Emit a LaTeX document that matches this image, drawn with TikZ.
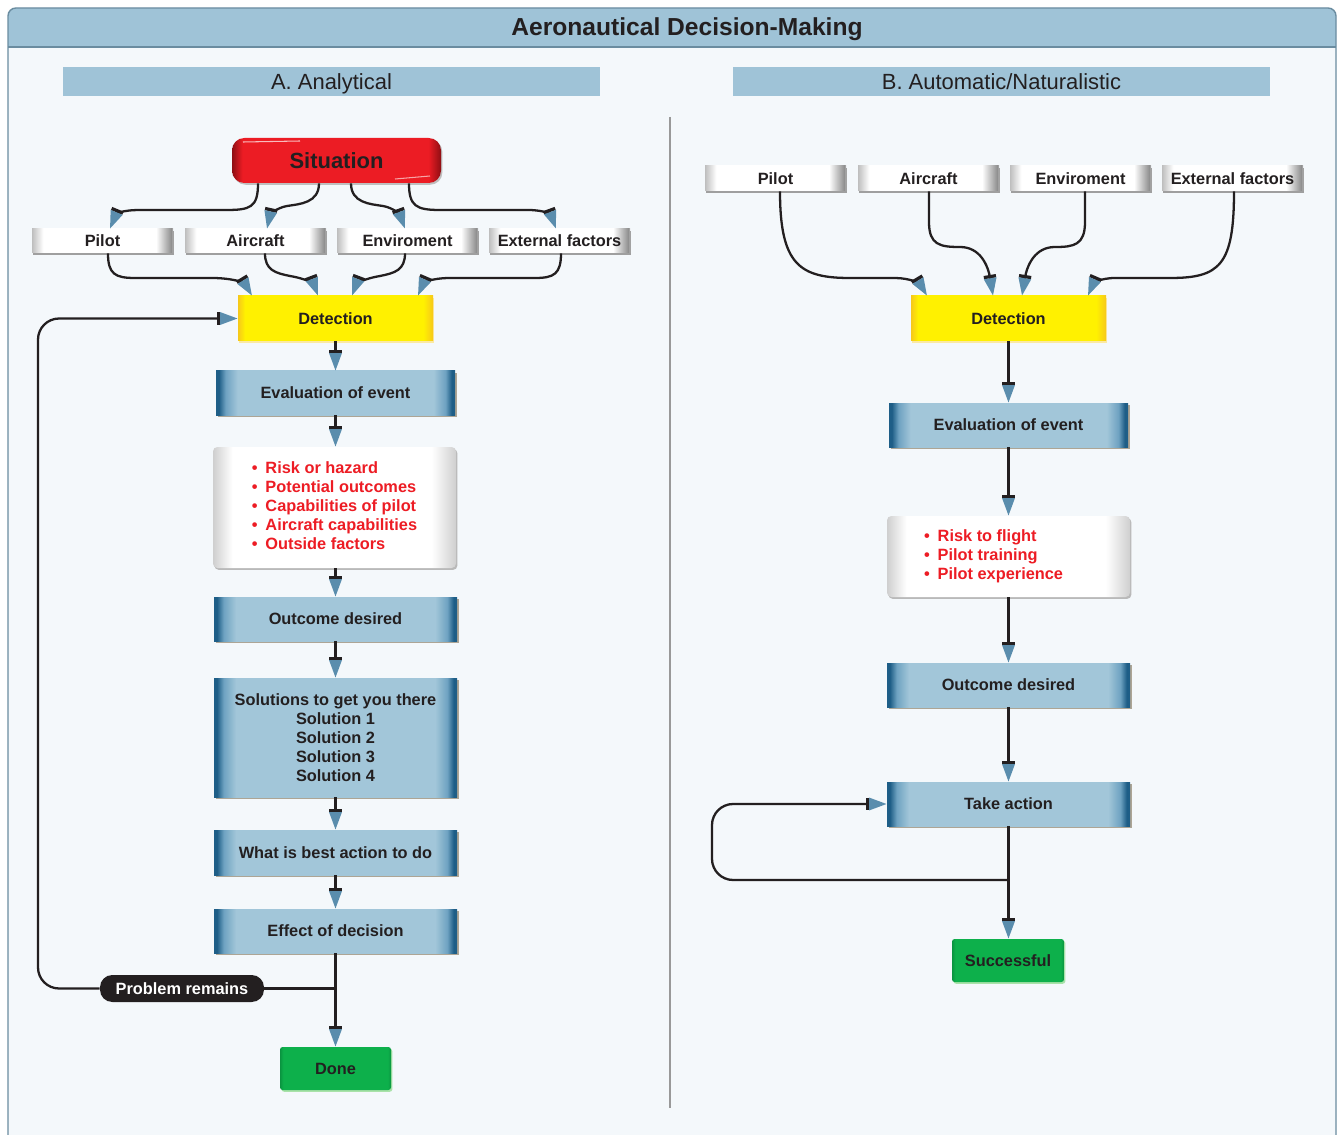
\documentclass[tikz,border=0pt]{standalone}
\usepackage{fontspec}
\setmainfont{Liberation Sans}
\usetikzlibrary{arrows.meta,calc,shadows}
\definecolor{txt}{HTML}{231F20}
\definecolor{band}{HTML}{9FC3D7}
\definecolor{panel}{HTML}{F4F8FB}
\definecolor{framec}{HTML}{6A8CA0}
\definecolor{bdark}{HTML}{1E5E87}
\definecolor{bmid}{HTML}{6EA2C1}
\definecolor{blight}{HTML}{A2C6D9}
\definecolor{gedge}{HTML}{BEBEBE}
\definecolor{gedge2}{HTML}{8E8E8E}
\definecolor{ledge}{HTML}{CFCFCF}
\definecolor{yedge}{HTML}{F6C81A}
\definecolor{ymid}{HTML}{FFF100}
\definecolor{gredge}{HTML}{0A9440}
\definecolor{grmid}{HTML}{0DB04B}
\definecolor{rdark}{HTML}{8E0E13}
\definecolor{rmid}{HTML}{EC1C24}
\definecolor{redtxt}{HTML}{ED1C24}
\definecolor{coneblue}{HTML}{5A8DAD}
\definecolor{shad}{HTML}{ADA595}
\pgfdeclarehorizontalshading{blueshade}{100bp}{color(0bp)=(bdark); color(25.6bp)=(bdark); color(27bp)=(bmid); color(29.5bp)=(blight); color(70.5bp)=(blight); color(73bp)=(bmid); color(74.3bp)=(bdark); color(100bp)=(bdark)}
\pgfdeclarehorizontalshading{labelshade}{100bp}{color(0bp)=(gedge); color(25bp)=(gedge); color(29bp)=(white); color(69bp)=(white); color(74.4bp)=(gedge2); color(75bp)=(gedge); color(100bp)=(gedge)}
\pgfdeclarehorizontalshading{listshade}{100bp}{color(0bp)=(ledge); color(25bp)=(ledge); color(29bp)=(white); color(70bp)=(white); color(75bp)=(ledge); color(100bp)=(ledge)}
\pgfdeclarehorizontalshading{yellowshade}{100bp}{color(0bp)=(yedge); color(25bp)=(yedge); color(26.8bp)=(ymid); color(72.5bp)=(ymid); color(75bp)=(yedge); color(100bp)=(yedge)}
\pgfdeclarehorizontalshading{greenshade}{100bp}{color(0bp)=(gredge); color(25bp)=(gredge); color(26.5bp)=(grmid); color(73.5bp)=(grmid); color(75bp)=(gredge); color(100bp)=(gredge)}
\pgfdeclarehorizontalshading{redshade}{100bp}{color(0bp)=(rdark); color(25bp)=(rdark); color(27.5bp)=(rmid); color(72bp)=(rmid); color(75bp)=(rdark); color(100bp)=(rdark)}
\tikzset{
  every node/.style={text=txt},
  sz/.style 2 args={minimum width=#1*0.02cm, minimum height=#2*0.02cm},
  nbase/.style={inner sep=0pt, align=center, font=\fontsize{9.3}{10.8}\selectfont\bfseries},
  bluebox/.style={nbase, shading=blueshade, drop shadow={shadow xshift=0.9pt, shadow yshift=-1.2pt, fill=shad, opacity=1}},
  lblbox/.style={nbase, shading=labelshade, drop shadow={shadow xshift=0.7pt, shadow yshift=-0.9pt, fill=gray!75, opacity=1}},
  listbox/.style={inner sep=0pt, font=\fontsize{9.3}{10.8}\selectfont\bfseries, text=redtxt, shading=listshade, rounded corners=2.5pt, drop shadow={shadow xshift=0.8pt, shadow yshift=-1.1pt, fill=gray!55, opacity=1}},
  detbox/.style={nbase, shading=yellowshade, drop shadow={shadow xshift=0.8pt, shadow yshift=-1pt, fill=yedge!40, opacity=1}},
  greenbox/.style={nbase, shading=greenshade, rounded corners=1.5pt, drop shadow={shadow xshift=0.8pt, shadow yshift=-1pt, fill=green!50!gray!45, opacity=1}},
  sitbox/.style={inner sep=0pt, font=\fontsize{12.5}{14}\selectfont\bfseries, shading=redshade, rounded corners=7pt, drop shadow={shadow xshift=0.8pt, shadow yshift=-1pt, fill=gray!50, opacity=1}},
  probbox/.style={nbase, fill=txt, text=white, rounded corners=7pt},
  hdr/.style={inner sep=0pt, fill=band, font=\fontsize{12.5}{14}\selectfont, text height=11.2pt, text depth=2.6pt},
  conn/.style={draw=txt, line width=1.3pt},
  arr/.style={conn, -{Bar[width=7pt,line width=1.9pt,sep=0pt]Triangle[length=10pt,width=7pt,color=coneblue]}}
}
\newcommand{\blt}{\textbullet\hspace{4.5pt}}
\begin{document}
\begin{tikzpicture}[x=0.02cm,y=-0.02cm]
\useasboundingbox (0,0) rectangle (1343,1135);
\fill[white] (0,0) rectangle (1343,1135);
% frame and panel
\fill[panel, rounded corners=4.5pt] (8,1160) -- (8,8) -- (1336,8) -- (1336,1160) -- cycle;
\fill[band] (8,47) [rounded corners=4.5pt] -- (8,8) -- (1336,8) [sharp corners] -- (1336,47) -- cycle;
\draw[framec, line width=0.8pt] (8,47) -- (1336,47);
\draw[framec, line width=0.8pt, rounded corners=4.5pt] (8,1160) -- (8,8) -- (1336,8) -- (1336,1160);
\node[font=\fontsize{14}{16}\selectfont\bfseries] (title) at (687,29) {Aeronautical Decision-Making};
\node[hdr, sz={537}{29}] (hA) at (331.5,81.5) {A. Analytical};
\node[hdr, sz={537}{29}] (hB) at (1001.5,81.5) {B. Automatic/Naturalistic};
\draw[gray!80, line width=0.7pt] (670,117) -- (670,1108);

% ---------- A: Analytical ----------
\node[sitbox, sz={209}{45}] (sit) at (336.5,160.5) {Situation};
\draw[white, opacity=0.7, line width=0.6pt] (243,142) -- (300,141);
\draw[white, opacity=0.6, line width=0.6pt] (395,179) -- (430,176);
\node[lblbox, sz={141}{24}] (pA) at (102.5,241) {Pilot};
\node[lblbox, sz={141}{24}] (aA) at (255.5,241) {Aircraft};
\node[lblbox, sz={141}{24}] (eA) at (407.5,241) {Enviroment};
\node[lblbox, sz={141}{24}] (xA) at (559.5,241) {External factors};
\node[detbox, sz={195}{45}] (detA) at (335.5,318.5) {Detection};
\node[bluebox, sz={239}{44}] (evalA) at (335.5,393) {Evaluation of event};
\node[listbox, sz={243}{121}] (listA) at (334.5,507.5) {\begin{tabular}{@{}l@{}}\blt Risk or hazard\\\blt Potential outcomes\\\blt Capabilities of pilot\\\blt Aircraft capabilities\\\blt Outside factors\end{tabular}};
\node[bluebox, sz={243}{44}] (outA) at (335.5,619) {Outcome desired};
\node[bluebox, sz={243}{119}] (solA) at (335.5,737.5) {Solutions to get you there\\Solution 1\\Solution 2\\Solution 3\\Solution 4};
\node[bluebox, sz={243}{45}] (bestA) at (335.5,852.5) {What is best action to do};
\node[bluebox, sz={243}{44}] (effA) at (335.5,931) {Effect of decision};
\node[probbox, sz={164}{27}] (prob) at (182,988.5) {Problem remains};
\node[greenbox, sz={111}{43}] (doneA) at (335.5,1068.5) {Done};

% situation to factors
\draw[arr] ($(sit.south)+(-78.5,0)$) .. controls (258,208) and (250,210) .. (225,210) -- (140,210) .. controls (122,210) and (116,214) .. ($(pA.north)+(7.5,0)$);
\draw[arr] ($(sit.south)+(-17.5,0)$) .. controls (319,203) and (300,204) .. (287,206) .. controls (276,208) and (270,215) .. ($(aA.north)+(11.5,0)$);
\draw[arr] ($(sit.south)+(14.5,0)$) .. controls (351,203) and (370,204) .. (383,206) .. controls (394,208) and (400,215) .. ($(eA.north)+(-2.5,0)$);
\draw[arr] ($(sit.south)+(72.5,0)$) .. controls (409,206) and (416,210) .. (440,210) -- (528,210) .. controls (545,210) and (551,215) .. ($(xA.north)+(-3.5,0)$);
% factors to detection
\draw[arr] ($(pA.south)+(5.5,0)$) .. controls (108,274) and (115,278) .. (135,278) -- (212,278) .. controls (235,278) and (245,284) .. ($(detA.north)+(-83.5,0)$);
\draw[arr] ($(aA.south)+(9.5,0)$) .. controls (265,270) and (275,273) .. (290,276) .. controls (308,279) and (314,285) .. ($(detA.north)+(-17.5,0)$);
\draw[arr] ($(eA.south)+(-2.5,0)$) .. controls (405,270) and (395,273) .. (380,276) .. controls (362,279) and (356,285) .. ($(detA.north)+(16.5,0)$);
\draw[arr] ($(xA.south)+(1.5,0)$) .. controls (561,274) and (554,278) .. (535,278) -- (450,278) .. controls (430,278) and (423,284) .. ($(detA.north)+(82.5,0)$);
% chain
\draw[arr] (detA) -- (evalA);
\draw[arr] (evalA) -- (evalA |- listA.north);
\draw[arr] (evalA |- listA.south) -- (outA);
\draw[arr] (outA) -- (solA);
\draw[arr] (solA) -- (bestA);
\draw[arr] (bestA) -- (effA);
\draw[arr] (effA) -- (doneA);
\draw[conn] (effA.south |- prob.east) -- (prob.east);
\draw[arr, rounded corners=12pt] (prob.west) -- (38,988.5) -- (38,318.5) -- (detA.west);

% ---------- B: Automatic/Naturalistic ----------
\node[lblbox, sz={141}{25}] (pB) at (775.5,178.5) {Pilot};
\node[lblbox, sz={141}{25}] (aB) at (928.5,178.5) {Aircraft};
\node[lblbox, sz={141}{25}] (eB) at (1080.5,178.5) {Enviroment};
\node[lblbox, sz={141}{25}] (xB) at (1232.5,178.5) {External factors};
\node[detbox, sz={195}{45}] (detB) at (1008.5,318.5) {Detection};
\node[bluebox, sz={239}{44}] (evalB) at (1008.5,425) {Evaluation of event};
\node[listbox, sz={243}{81}] (listB) at (1008.5,556.5) {\begin{tabular}{@{}l@{}}\blt Risk to flight\\\blt Pilot training\\\blt Pilot experience\end{tabular}\hspace*{17pt}};
\node[bluebox, sz={243}{44}] (outB) at (1008.5,685) {Outcome desired};
\node[bluebox, sz={243}{44}] (takeB) at (1008.5,804) {Take action};
\node[greenbox, sz={112}{43}] (succB) at (1008,960.5) {Successful};

\draw[arr] ($(pB.south)+(4.5,0)$) .. controls (780,265) and (800,278) .. (850,278) -- (895,278) .. controls (910,278) and (920,284) .. ($(detB.north)+(-81.5,0)$);
\draw[arr] ($(aB.south)+(0.5,0)$) -- (929,222) .. controls (929,245) and (940,247) .. (960,247) .. controls (980,247) and (988,265) .. ($(detB.north)+(-15.5,0)$);
\draw[arr] ($(eB.south)+(4.5,0)$) -- (1085,222) .. controls (1085,245) and (1074,247) .. (1055,247) .. controls (1035,247) and (1027,265) .. ($(detB.north)+(13.5,0)$);
\draw[arr] ($(xB.south)+(1.5,0)$) .. controls (1234,265) and (1220,278) .. (1170,278) -- (1115,278) .. controls (1100,278) and (1093,284) .. ($(detB.north)+(79.5,0)$);
\draw[arr] (detB) -- (evalB);
\draw[arr] (evalB) -- (listB);
\draw[arr] (listB) -- (outB);
\draw[arr] (outB) -- (takeB);
\draw[arr] (takeB.south) -- (takeB.south |- succB.north);
\draw[arr, rounded corners=12pt] (takeB.south |- 0,880) -- (712,880) -- (712,804) -- (takeB.west);
\end{tikzpicture}
\end{document}
